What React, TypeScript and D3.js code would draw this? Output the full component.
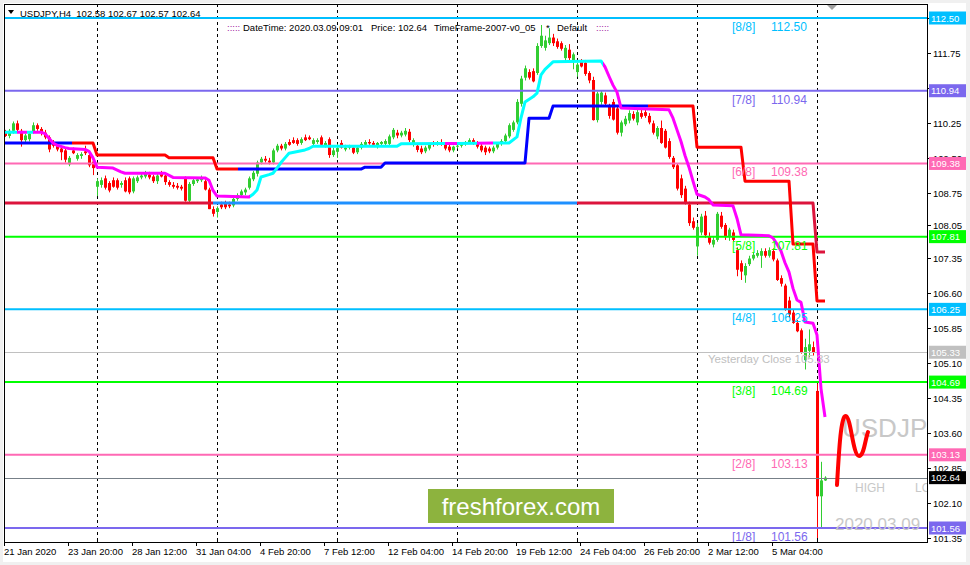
import React from 'react';
import * as d3 from 'd3';

// ---------- DATA ----------
// OHLC, H4 bars, 21 Jan 2020 04:00 .. 9 Mar 2020 08:00 (one array per trading week)
const week1 = [
  [110.04,110.10,109.95,109.97],[109.97,110.12,109.92,110.08],[110.08,110.28,110.02,110.24],[110.24,110.30,110.06,110.10],
  [110.08,110.12,109.74,109.88],[109.88,110.02,109.84,109.98],[109.90,110.05,109.85,110.02],[110.05,110.26,110.02,110.20],
  [110.20,110.24,110.08,110.12],[110.12,110.16,109.98,110.04],[110.04,110.10,109.90,109.94],[109.94,109.98,109.62,109.68],
  [109.84,109.88,109.72,109.76],[109.76,109.80,109.64,109.68],[109.70,109.74,109.45,109.62],[109.66,109.72,109.40,109.46],
  [109.36,109.54,109.32,109.50],[109.66,109.72,109.58,109.60],[109.48,109.60,109.44,109.56],[109.54,109.62,109.48,109.58],
  [109.64,109.76,109.56,109.60],[109.56,109.60,109.30,109.34],[109.42,109.48,109.13,109.28],
];
const week2 = [
  [108.88,109.06,108.68,109.00],[108.92,109.08,108.86,109.02],[109.06,109.12,108.82,108.86],[108.96,109.00,108.76,108.80],
  [109.02,109.08,108.86,108.88],[109.02,109.06,108.82,108.86],[108.92,109.00,108.86,108.96],[109.02,109.08,108.76,108.78],
  [109.06,109.10,108.72,108.76],[108.78,109.10,108.74,109.06],[109.00,109.12,108.96,109.08],[109.08,109.16,109.04,109.12],
  [109.10,109.22,109.06,109.18],[109.14,109.20,109.04,109.08],[109.10,109.14,108.96,109.00],[109.00,109.18,108.94,109.12],
  [109.16,109.22,109.08,109.10],[109.12,109.16,108.92,108.98],[108.98,109.02,108.88,108.92],[108.92,108.98,108.84,108.88],
  [108.90,108.96,108.82,108.86],[108.88,108.92,108.80,108.84],[109.06,109.10,108.56,108.58],[108.58,108.98,108.54,108.94],
  [108.94,109.06,108.90,109.02],[109.00,109.06,108.96,109.04],[109.02,109.12,108.98,109.08],[109.00,109.06,108.80,108.82],
  [108.82,108.86,108.40,108.40],[108.40,108.46,108.24,108.30],
];
const week3 = [
  [108.34,108.46,108.22,108.42],[108.50,108.56,108.40,108.44],[108.52,108.58,108.40,108.44],[108.50,108.56,108.42,108.46],
  [108.48,108.66,108.44,108.62],[108.62,108.74,108.58,108.70],[108.70,108.82,108.66,108.78],[108.76,108.86,108.70,108.82],
  [108.86,109.10,108.82,109.06],[109.04,109.22,109.00,109.18],[109.16,109.44,109.10,109.40],[109.40,109.52,109.36,109.48],
  [109.48,109.54,109.40,109.44],[109.44,109.50,109.36,109.40],[109.40,109.70,109.36,109.66],[109.66,109.80,109.62,109.76],
  [109.76,109.80,109.66,109.70],[109.70,109.84,109.66,109.80],[109.84,109.90,109.76,109.78],[109.88,109.94,109.80,109.82],
  [109.88,109.92,109.76,109.80],[109.82,109.94,109.78,109.90],[109.94,110.00,109.86,109.88],[109.94,109.98,109.88,109.90],
  [109.80,109.92,109.76,109.88],[109.84,109.92,109.80,109.88],[109.94,109.98,109.76,109.78],[109.76,109.86,109.72,109.82],
  [109.90,109.94,109.50,109.56],[109.56,109.72,109.52,109.66],
];
const week4 = [
  [109.63,109.80,109.50,109.71],[109.82,109.88,109.70,109.72],[109.68,109.78,109.64,109.72],[109.72,109.78,109.68,109.74],
  [109.72,109.76,109.58,109.61],[109.62,109.76,109.58,109.72],[109.72,109.84,109.68,109.80],[109.78,109.88,109.74,109.84],
  [109.84,109.90,109.78,109.81],[109.82,109.86,109.74,109.78],[109.74,109.84,109.70,109.82],[109.80,109.86,109.76,109.84],
  [109.80,109.90,109.76,109.86],[109.80,110.00,109.76,109.96],[109.94,110.14,109.90,110.10],[110.04,110.10,109.92,109.98],
  [109.98,110.08,109.94,110.04],[110.00,110.14,109.96,110.08],[110.06,110.12,109.84,109.88],[109.80,109.92,109.74,109.88],
  [109.76,109.80,109.62,109.67],[109.70,109.76,109.58,109.62],[109.64,109.76,109.60,109.72],[109.70,109.82,109.66,109.78],
  [109.82,109.86,109.74,109.78],[109.80,109.86,109.76,109.84],[109.84,109.90,109.76,109.78],[109.80,109.84,109.66,109.70],
  [109.74,109.78,109.62,109.66],[109.66,109.76,109.62,109.74],
];
const week5 = [
  [109.74,109.80,109.70,109.76],[109.76,109.84,109.72,109.80],[109.80,109.86,109.76,109.84],[109.82,109.92,109.80,109.88],
  [109.88,109.92,109.78,109.82],[109.82,109.86,109.70,109.74],[109.76,109.80,109.62,109.66],[109.72,109.76,109.56,109.62],
  [109.70,109.74,109.60,109.64],[109.64,109.76,109.60,109.72],[109.72,109.84,109.68,109.80],[109.80,109.90,109.76,109.86],
  [109.86,110.02,109.82,109.98],[109.96,110.24,109.92,110.20],[110.10,110.30,110.06,110.26],[110.26,110.76,110.22,110.70],
  [110.66,111.26,110.60,111.20],[111.22,111.48,111.16,111.42],[111.34,111.40,111.18,111.22],[111.36,111.42,111.12,111.14],
  [111.32,111.96,111.28,111.90],[111.90,112.35,111.86,112.12],[111.86,112.12,111.80,112.02],[111.96,112.28,111.92,112.08],
  [112.08,112.16,111.90,111.96],[112.00,112.06,111.84,111.88],[111.96,112.00,111.80,111.84],[111.64,111.92,111.58,111.86],
  [111.82,111.94,111.60,111.64],[111.56,111.76,111.40,111.72],
];
const week6 = [
  [111.34,111.54,111.24,111.50],[111.56,111.62,111.44,111.46],[111.54,111.60,111.26,111.30],[111.32,111.36,111.10,111.16],
  [111.17,111.24,110.30,110.31],[110.31,110.92,110.26,110.88],[110.70,110.94,110.64,110.90],[110.84,110.90,110.62,110.66],
  [110.62,110.66,110.34,110.40],[110.70,110.76,110.30,110.32],[110.56,110.60,110.00,110.04],[110.04,110.30,109.96,110.26],
  [110.22,110.40,110.18,110.34],[110.30,110.52,110.24,110.46],[110.44,110.50,110.30,110.34],[110.26,110.54,110.20,110.48],
  [110.46,110.54,110.34,110.38],[110.48,110.56,110.36,110.40],[110.40,110.46,110.22,110.26],[110.24,110.30,110.00,110.04],
  [109.96,110.18,109.90,110.14],[110.14,110.30,109.80,109.82],[110.08,110.12,109.70,109.72],[109.86,109.92,109.48,109.52],
  [109.50,109.54,109.26,109.30],[109.34,109.38,108.80,108.84],[109.06,109.14,108.64,108.70],[108.84,108.90,108.50,108.54],
  [108.50,108.56,108.04,108.10],[108.14,108.22,107.96,108.00],
];
const week7 = [
  [107.60,108.10,107.40,108.02],[107.90,108.30,107.84,108.24],[108.26,108.36,107.78,107.84],[107.82,107.90,107.64,107.68],
  [107.64,107.80,107.58,107.74],[107.74,108.34,107.70,108.30],[108.26,108.34,107.98,108.02],[108.06,108.10,107.74,107.80],
  [107.80,108.00,107.72,107.96],[107.90,107.96,107.70,107.74],[107.52,107.58,106.96,107.10],[107.24,107.30,106.88,107.06],
  [106.98,107.24,106.82,107.18],[107.22,107.40,107.18,107.34],[107.34,107.46,107.30,107.42],[107.40,107.52,107.36,107.46],
  [107.40,107.56,107.14,107.50],[107.50,107.56,107.36,107.40],[107.40,107.58,107.36,107.52],[107.50,107.56,107.28,107.32],
  [107.30,107.34,106.86,106.88],[106.92,106.98,106.74,106.80],[106.76,106.80,106.22,106.24],[106.44,106.52,106.08,106.14],
  [106.18,106.24,105.94,105.96],[105.96,106.02,105.76,105.78],[105.80,105.84,105.30,105.32],[105.16,105.62,104.96,105.44],
  [105.36,105.82,105.22,105.50],[105.44,105.56,105.26,105.32],
];
const week8 = [
  [104.50,104.66,101.18,102.24],[102.24,102.98,101.56,102.58],[102.58,102.67,102.57,102.64],
];
const candles = [...week1, ...week2, ...week3, ...week4, ...week5, ...week6, ...week7, ...week8];

// Murrey math levels
const murreyLevels = [112.50, 110.94, 109.38, 107.81, 106.25, 104.69, 103.13, 101.56];
const murreyNames = ['[8/8]', '[7/8]', '[6/8]', '[5/8]', '[4/8]', '[3/8]', '[2/8]', '[1/8]'];
const murreyColors = ['#00BFFF', '#7B68EE', '#FF69B4', '#00FF00', '#00BFFF', '#00FF00', '#FF69B4', '#7B68EE'];
const yesterdayClose = 105.33;
const bidPrice = 102.64;

// Upper channel (step line)
const upperBars = [0,22,23,40,41,52,53,89,90,94,95,130,131,136,137,172,173,184,185,196,197,202,203,205];
const upperPrices = [109.82,109.82,109.56,109.56,109.50,109.50,109.26,109.26,109.30,109.30,109.39,109.39,110.35,110.35,110.61,110.61,109.73,109.73,109.00,109.00,107.65,107.65,106.43,106.43];
const upperRunStart = [0, 16.75, 58.25, 160.75];
const upperRunColor = ['#0000FF', '#FF0000', '#0000FF', '#FF0000'];

// Lower channel
const lowerBars = [0, 202, 203, 205];
const lowerPrices = [108.53, 108.53, 107.48, 107.48];
const lowerRunStart = [0, 52, 143];
const lowerRunColor = ['#DC143C', '#1E90FF', '#DC143C'];

// Trailing line
const trailBars = [0,9,10,11,12,13,15,16,20,21,22,23,27,29,30,40,42,50,51,52,53,61,62,63,64,66,67,68,69,70,71,75,76,77,98,99,126,128,129,130,132,133,134,135,137,149,150,151,152,153,154,166,167,168,169,170,171,172,173,175,176,177,182,183,184,191,192,193,194,195,196,197,198,199,200,202,203,204,205];
const trailPrices = [110.05,110.05,110.02,109.92,109.82,109.77,109.72,109.70,109.68,109.64,109.50,109.30,109.28,109.20,109.17,109.17,109.08,109.07,109.02,108.80,108.68,108.66,108.72,108.81,109.09,109.14,109.17,109.28,109.40,109.50,109.60,109.67,109.70,109.75,109.75,109.80,109.82,109.95,110.36,110.70,110.81,110.89,111.28,111.40,111.56,111.58,111.45,111.25,111.06,110.91,110.57,110.53,110.35,110.10,109.85,109.55,109.30,109.00,108.72,108.66,108.60,108.49,108.47,108.20,107.85,107.83,107.78,107.65,107.50,107.25,107.05,106.70,106.45,106.40,105.98,105.95,105.70,104.55,103.94];
const trailRunStart = [0, 3, 5.5, 7, 61.25, 110, 113, 118, 122, 149.5];
const trailRunColor = ['#00FFFF', '#FF00FF', '#00FFFF', '#FF00FF', '#00FFFF', '#FF00FF', '#00FFFF', '#FF00FF', '#00FFFF', '#FF00FF'];

// Axes (112.50 and 111.00 sit under the level boxes and are not shown as text)
const yTicks = [112.50, 111.75, 111.00, 110.25, 109.50, 108.75, 108.05, 107.35, 106.60, 105.85, 105.10, 104.35, 103.60, 102.85, 102.10, 101.35];
const yTickHidden = [112.50, 111.00];
const xLabels = ['21 Jan 2020', '23 Jan 20:00', '28 Jan 12:00', '31 Jan 04:00', '4 Feb 20:00', '7 Feb 12:00', '12 Feb 04:00', '14 Feb 20:00', '19 Feb 12:00', '24 Feb 04:00', '26 Feb 20:00', '2 Mar 12:00', '5 Mar 04:00'];
const xLabelBars = [0, 16, 32, 48, 64, 80, 96, 112, 128, 144, 160, 176, 192];
const weekStartBars = [23, 53, 83, 113, 143, 173, 203];

// Price boxes on the right scale
const boxPrices = [112.50, 110.94, 109.38, 107.81, 106.25, 105.33, 104.69, 103.13, 102.64, 101.56];
const boxColors = ['#00BFFF', '#7B68EE', '#FF69B4', '#00FF00', '#00BFFF', '#C0C0C0', '#00FF00', '#FF69B4', '#000000', '#7B68EE'];

// ---------- LAYOUT ----------
const W = 970, H = 565;
const PL = 4, PR = 927, PT = 4, PB = 542;
const FONT = '"Liberation Sans", Arial, Helvetica, sans-serif';

const x = d3.scaleLinear().domain([0, 205]).range([5, 825]);
const y = d3.scaleLinear().domain([101.56, 112.5]).range([528, 18]);

function pathOf(bars: number[], prices: number[]) {
  const gen = d3.line<[number, number]>().x(d => x(d[0])).y(d => y(d[1]));
  return gen(bars.map((b, i) => [b, prices[i]] as [number, number])) || '';
}

function RunLine({ id, bars, prices, starts, colors, width }:
  { id: string; bars: number[]; prices: number[]; starts: number[]; colors: string[]; width: number }) {
  const d = pathOf(bars, prices);
  return (
    <g>
      <defs>
        {starts.map((s, k) => {
          const x0 = k === 0 ? PL : x(s);
          const x1 = k === starts.length - 1 ? PR : x(starts[k + 1]);
          return (
            <clipPath id={`${id}-${k}`} key={k}>
              <rect x={x0} y={PT} width={Math.max(0, x1 - x0)} height={PB - PT} />
            </clipPath>
          );
        })}
      </defs>
      {starts.map((s, k) => (
        <path key={k} d={d} fill="none" stroke={colors[k]} strokeWidth={width}
          strokeLinejoin="round" clipPath={`url(#${id}-${k})`} />
      ))}
    </g>
  );
}

export default function App() {
  return (
    <svg width={W} height={H} style={{ position: 'fixed', left: 0, top: 0, display: 'block' }}
      fontFamily={FONT}>
      <defs>
        <clipPath id="plot">
          <rect x={PL} y={PT} width={PR - PL} height={PB - PT} />
        </clipPath>
      </defs>
      <rect x={0} y={0} width={W} height={H} fill="#F0F0F0" />
      <rect x={3} y={3} width={963} height={559} fill="#FFFFFF" />

      {/* week grid */}
      {weekStartBars.map((b, i) => (
        <line key={i} x1={Math.round(x(b)) + 0.5} x2={Math.round(x(b)) + 0.5} y1={PT} y2={PB}
          stroke="#000" strokeWidth={1} strokeDasharray="3,3" />
      ))}

      <g clipPath="url(#plot)">
        {/* candles */}
        {candles.map((c, i) => {
          const [o, h, l, cl] = c;
          const up = cl >= o;
          const col = up ? '#32CD32' : '#FF0000';
          const cx = Math.round(x(i));
          const top = y(Math.max(o, cl));
          const bh = Math.max(1, Math.abs(y(o) - y(cl)));
          return (
            <g key={i}>
              <line x1={cx + 0.5} x2={cx + 0.5} y1={y(h)} y2={y(l)} stroke={col} strokeWidth={1} />
              <rect x={cx - 1} y={top} width={3} height={bh} fill={col} />
            </g>
          );
        })}

        {/* murrey lines */}
        {murreyLevels.map((m, i) => (
          <line key={i} x1={PL} x2={PR} y1={y(m)} y2={y(m)} stroke={murreyColors[i]} strokeWidth={2} />
        ))}
        <line x1={PL} x2={PR} y1={Math.round(y(yesterdayClose)) + 0.5} y2={Math.round(y(yesterdayClose)) + 0.5} stroke="#C0C0C0" strokeWidth={1} />
        <line x1={PL} x2={PR} y1={Math.round(y(bidPrice)) + 0.5} y2={Math.round(y(bidPrice)) + 0.5} stroke="#778088" strokeWidth={1} />

        {/* indicator lines */}
        <RunLine id="lower" bars={lowerBars} prices={lowerPrices} starts={lowerRunStart} colors={lowerRunColor} width={3} />
        <RunLine id="upper" bars={upperBars} prices={upperPrices} starts={upperRunStart} colors={upperRunColor} width={3} />
        <RunLine id="trail" bars={trailBars} prices={trailPrices} starts={trailRunStart} colors={trailRunColor} width={3} />

        {/* murrey labels */}
        {murreyLevels.map((m, i) => (
          <g key={i} fontSize={12} fill={murreyColors[i]}>
            <text x={732} y={y(m) + 13}>{murreyNames[i]}</text>
            <text x={771} y={y(m) + 13}>{m.toFixed(2)}</text>
          </g>
        ))}
        <text x={708} y={y(yesterdayClose) + 11} fontSize={11.5} fill="#C0C0C0">Yesterday Close {yesterdayClose.toFixed(2)}</text>

        {/* right-side watermark texts (cut by the chart edge) */}
        <text x={842} y={437} fontSize={26} fill="#C8C8C8">USDJP</text>
        <text x={855} y={492} fontSize={12} fill="#C8C8C8">HIGH</text>
        <text x={915} y={492} fontSize={12} fill="#C8C8C8">LO</text>
        <text x={835} y={530} fontSize={17} fill="#C8C8C8">2020.03.09</text>
        <path d="M837,485 C839,450 841,414 846,416 C851,418 853,456 859,456 C864,456 865,440 868,432"
          fill="none" stroke="#FF0000" strokeWidth={4} strokeLinecap="round" />
      </g>

      {/* frame & axes */}
      <rect x={PL + 0.5} y={PT + 0.5} width={PR - PL} height={PB - PT} fill="none" stroke="#000" strokeWidth={1} />
      <polygon points="827,5 837,5 832,10" fill="#A0A0A0" />

      {/* y axis */}
      {yTicks.map((t, i) => (
        <g key={i}>
          <line x1={PR} x2={PR + 4} y1={Math.round(y(t)) + 0.5} y2={Math.round(y(t)) + 0.5} stroke="#000" />
          {yTickHidden.indexOf(t) < 0 && (
            <text x={933} y={y(t) + 4} fontSize={9.5} fill="#000">{t.toFixed(2)}</text>
          )}
        </g>
      ))}
      {boxPrices.map((p, i) => (
        <g key={i}>
          <rect x={929} y={y(p) - 6.5} width={37} height={13} fill={boxColors[i]} />
          <text x={931} y={y(p) + 3.5} fontSize={9.5} fill="#FFFFFF">{p.toFixed(2)}</text>
        </g>
      ))}

      {/* x axis */}
      {xLabelBars.map((b, i) => (
        <g key={i}>
          <line x1={Math.round(x(b)) - 0.5} x2={Math.round(x(b)) - 0.5} y1={PB} y2={PB + 4} stroke="#000" />
          <text x={Math.round(x(b)) - 1} y={555} fontSize={9.5} fill="#000">{xLabels[i]}</text>
        </g>
      ))}
      {weekStartBars.map((b, i) => (
        <line key={i} x1={Math.round(x(b)) + 0.5} x2={Math.round(x(b)) + 0.5} y1={PB - 4} y2={PB} stroke="#000" />
      ))}

      {/* header */}
      <polygon points="8,10 14,10 11,14" fill="#000" />
      <text x={20} y={17} fontSize={9.5} fill="#000" style={{ whiteSpace: 'pre' }}>USDJPY,H4  102.58 102.67 102.57 102.64</text>
      <g fontSize={9.5}>
        <text x={227} y={31} fill="#A020A0">:::::</text>
        <text x={243} y={31} fill="#000">DateTime: 2020.03.09 09:01</text>
        <text x={371} y={31} fill="#000">Price: 102.64</text>
        <text x={434} y={31} fill="#000">TimeFrame-2007-v0_05</text>
        <text x={546} y={31} fill="#000">*</text>
        <text x={557} y={31} fill="#000">Default</text>
        <text x={596} y={31} fill="#A020A0">:::::</text>
      </g>

      {/* logo */}
      <rect x={428} y={489} width={186} height={34} fill="#8DB33E" />
      <text x={521} y={515} fontSize={24} fill="#FFFFFF" textAnchor="middle">freshforex.com</text>
    </svg>
  );
}
